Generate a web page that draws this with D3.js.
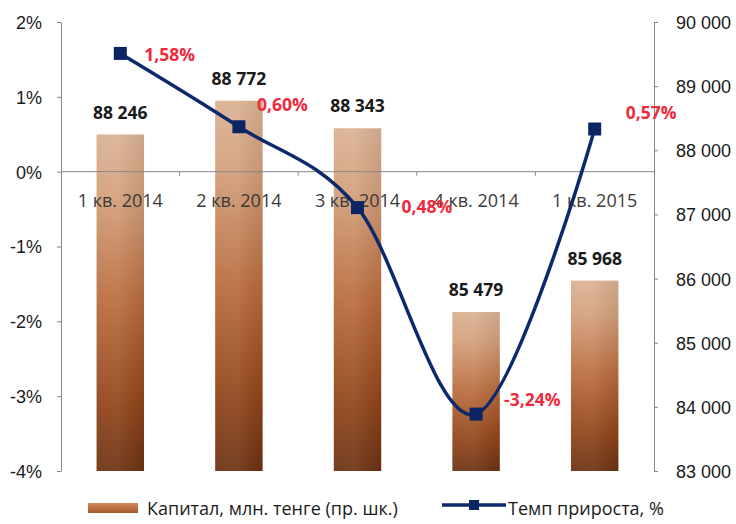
<!DOCTYPE html>
<html>
<head>
<meta charset="utf-8">
<script src="https://cdn.jsdelivr.net/npm/d3@7"></script>
<style>
  body { margin: 0; background: #fff; }
  svg { display: block; font-family: "Open Sans", sans-serif; }
  .axis path, .axis line { stroke: #868686; }
  .axis text { fill: #1a1a1a; font-size: 18px; }
</style>
</head>
<body>
<div id="chart"></div>
<script>
const categories = ['1 кв. 2014', '2 кв. 2014', '3 кв. 2014', '4 кв. 2014', '1 кв. 2015'];
const capital = [88246, 88772, 88343, 85479, 85968];
const growth = [1.58, 0.60, -0.48, -3.24, 0.57];
const growthLabels = ['1,58%', '0,60%', '0,48%', '-3,24%', '0,57%'];
const leftTicks = [-4, -3, -2, -1, 0, 1, 2];
const rightTicks = [83000, 84000, 85000, 86000, 87000, 88000, 89000, 90000];
const legendNames = ['Капитал, млн. тенге (пр. шк.)', 'Темп прироста, %'];

const W = 736, H = 524;
const plotLeft = 61, plotRight = 654, plotTop = 22, plotBottom = 471;

const svg = d3.select('#chart').append('svg')
    .attr('width', W)
    .attr('height', H);

const defs = svg.append('defs');
const grad = defs.append('linearGradient')
    .attr('id', 'barGrad')
    .attr('x1', 0).attr('y1', 0).attr('x2', 0).attr('y2', 1);
grad.append('stop').attr('offset', '0%').attr('stop-color', '#dbb193');
grad.append('stop').attr('offset', '18%').attr('stop-color', '#d3a07c');
grad.append('stop').attr('offset', '50%').attr('stop-color', '#b96b3c');
grad.append('stop').attr('offset', '80%').attr('stop-color', '#914419');
grad.append('stop').attr('offset', '100%').attr('stop-color', '#6c3213');

const shade = defs.append('linearGradient')
    .attr('id', 'barShade')
    .attr('x1', 0).attr('y1', 0).attr('x2', 1).attr('y2', 0);
shade.append('stop').attr('offset', '0%').attr('stop-color', '#fff').attr('stop-opacity', 0.06);
shade.append('stop').attr('offset', '45%').attr('stop-color', '#fff').attr('stop-opacity', 0.08);
shade.append('stop').attr('offset', '100%').attr('stop-color', '#000').attr('stop-opacity', 0.06);

const legendGrad = defs.append('linearGradient')
    .attr('id', 'legendGrad')
    .attr('x1', 0).attr('y1', 0).attr('x2', 0).attr('y2', 1);
legendGrad.append('stop').attr('offset', '0%').attr('stop-color', '#d18a5c');
legendGrad.append('stop').attr('offset', '100%').attr('stop-color', '#a8592a');

const x = d3.scaleBand()
    .domain(categories)
    .range([plotLeft, plotRight])
    .paddingInner(0.6)
    .paddingOuter(0.3);

const yL = d3.scaleLinear().domain([-4, 2]).range([plotBottom, plotTop]);
const yR = d3.scaleLinear().domain([83000, 90000]).range([plotBottom, plotTop]);

// bars (right scale)
const bars = svg.append('g');
bars.selectAll('rect.bar')
    .data(capital)
    .join('rect')
    .attr('class', 'bar')
    .attr('x', function(d, i) { return x(categories[i]); })
    .attr('y', function(d) { return yR(d); })
    .attr('width', x.bandwidth())
    .attr('height', function(d) { return yR.range()[0] - yR(d); })
    .attr('fill', 'url(#barGrad)');
bars.selectAll('rect.shade')
    .data(capital)
    .join('rect')
    .attr('class', 'shade')
    .attr('x', function(d, i) { return x(categories[i]); })
    .attr('y', function(d) { return yR(d); })
    .attr('width', x.bandwidth())
    .attr('height', function(d) { return yR.range()[0] - yR(d); })
    .attr('fill', 'url(#barShade)');

// axes
svg.append('g')
    .attr('class', 'axis')
    .attr('transform', 'translate(' + plotLeft + ',0)')
    .call(d3.axisLeft(yL).tickValues(leftTicks).tickSize(4).tickSizeOuter(0).tickPadding(15)
        .tickFormat(function(d) { return d + '%'; }))
    .call(function(g) { g.selectAll('text').attr('dy', '0.36em'); });

svg.append('g')
    .attr('class', 'axis')
    .attr('transform', 'translate(' + plotRight + ',0)')
    .call(d3.axisRight(yR).tickValues(rightTicks).tickSize(4).tickSizeOuter(0).tickPadding(18)
        .tickFormat(function(d) { return d3.format(',')(d).replace(',', ' '); }))
    .call(function(g) { g.selectAll('text').attr('dy', '0.36em'); });

// category axis along 0%
const y0 = yL(0);
svg.append('line')
    .attr('x1', plotLeft).attr('x2', plotRight)
    .attr('y1', y0).attr('y2', y0)
    .attr('stroke', '#868686');
const step = x.step();
svg.selectAll('line.xtick')
    .data(categories.slice(1))
    .join('line')
    .attr('class', 'xtick')
    .attr('x1', function(d) { return x(d) - x.paddingInner() * step / 2; })
    .attr('x2', function(d) { return x(d) - x.paddingInner() * step / 2; })
    .attr('y1', y0).attr('y2', y0 + 4)
    .attr('stroke', '#868686');
svg.selectAll('text.cat')
    .data(categories)
    .join('text')
    .attr('class', 'cat')
    .attr('x', function(d) { return x(d) + x.bandwidth() / 2; })
    .attr('y', y0 + 35)
    .attr('text-anchor', 'middle')
    .attr('font-size', 18)
    .attr('fill', '#3a3a3a')
    .text(function(d) { return d; });

// bar value labels
svg.selectAll('text.barlabel')
    .data(capital)
    .join('text')
    .attr('class', 'barlabel')
    .attr('x', function(d, i) { return x(categories[i]) + x.bandwidth() / 2; })
    .attr('y', function(d) { return yR(d) - 16; })
    .attr('text-anchor', 'middle')
    .attr('font-size', 17.5)
    .attr('font-weight', 'bold')
    .attr('fill', '#1a1a1a')
    .text(function(d) { return d3.format(',')(d).replace(',', ' '); });

// growth line
const cx = function(d, i) { return x(categories[i]) + x.bandwidth() / 2; };
const line = d3.line()
    .x(cx)
    .y(function(d) { return yL(d); })
    .curve(d3.curveCardinal.tension(0));
svg.append('path')
    .datum(growth)
    .attr('d', line)
    .attr('fill', 'none')
    .attr('stroke', '#0c2a6b')
    .attr('stroke-width', 3.5);
svg.selectAll('rect.marker')
    .data(growth)
    .join('rect')
    .attr('class', 'marker')
    .attr('x', function(d, i) { return cx(d, i) - 6.5; })
    .attr('y', function(d) { return yL(d) - 6.5; })
    .attr('width', 13)
    .attr('height', 13)
    .attr('fill', '#0a2464');

// growth labels, placed to the right of each point (3rd overlaps the category label, as in the source)
const labelShift = [[24, 8], [18, -16], [44, 5], [28, -8], [31, -10]];
svg.selectAll('text.ratelabel')
    .data(growth)
    .join('text')
    .attr('class', 'ratelabel')
    .attr('x', function(d, i) { return cx(d, i) + labelShift[i][0]; })
    .attr('y', function(d, i) { return yL(d) + labelShift[i][1]; })
    .attr('font-size', 17.5)
    .attr('font-weight', 'bold')
    .attr('fill', '#ee2a3c')
    .text(function(d, i) { return growthLabels[i]; });

// legend
const lg = svg.append('g');
lg.append('rect')
    .attr('x', 88).attr('y', 503)
    .attr('width', 50).attr('height', 10)
    .attr('fill', 'url(#legendGrad)');
lg.append('text')
    .attr('x', 147).attr('y', 515)
    .attr('font-size', 18)
    .attr('fill', '#1a1a1a')
    .text(legendNames[0]);
lg.append('line')
    .attr('x1', 442).attr('x2', 506)
    .attr('y1', 505).attr('y2', 505)
    .attr('stroke', '#0c2a6b')
    .attr('stroke-width', 3.5);
lg.append('rect')
    .attr('x', 469).attr('y', 500)
    .attr('width', 10).attr('height', 10)
    .attr('fill', '#0a2464');
lg.append('text')
    .attr('x', 508).attr('y', 515)
    .attr('font-size', 18)
    .attr('fill', '#1a1a1a')
    .text(legendNames[1]);
</script>
</body>
</html>
